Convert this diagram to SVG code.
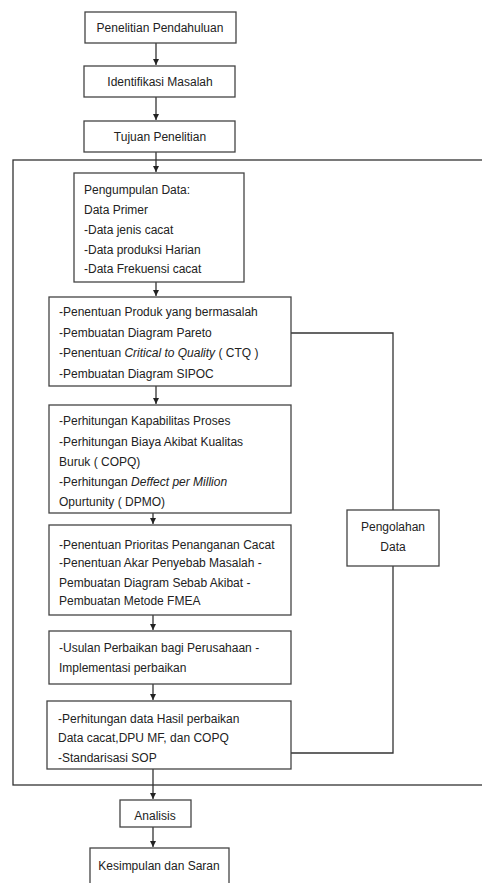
<svg xmlns="http://www.w3.org/2000/svg" width="482" height="883" viewBox="0 0 482 883">
<defs>
<marker id="ah" markerWidth="8" markerHeight="8" refX="6" refY="4" orient="auto" markerUnits="userSpaceOnUse">
<path d="M0,1 L6,4 L0,7 Z" fill="#222"/>
</marker>
<style>
.b{fill:#fff;stroke:#444;stroke-width:1.3}
.c{fill:none;stroke:#333;stroke-width:1.3}
.t{font-family:"Liberation Sans",Arial,sans-serif;font-size:12px;fill:#222}
.m{text-anchor:middle}
.i{font-style:italic}
</style>
</defs>
<rect width="482" height="883" fill="#fff"/>
<g id="frame"><rect x="13" y="160" width="480" height="625" class="c"/></g>
<g id="connectors">
<line x1="156" y1="43" x2="156" y2="65" class="c" marker-end="url(#ah)"/>
<line x1="156" y1="97" x2="156" y2="120" class="c" marker-end="url(#ah)"/>
<line x1="156" y1="152" x2="156" y2="172" class="c" marker-end="url(#ah)"/>
<line x1="156" y1="282" x2="156" y2="296" class="c" marker-end="url(#ah)"/>
<line x1="156" y1="386" x2="156" y2="404" class="c" marker-end="url(#ah)"/>
<line x1="153" y1="513" x2="153" y2="524" class="c" marker-end="url(#ah)"/>
<line x1="153" y1="615" x2="153" y2="630" class="c" marker-end="url(#ah)"/>
<line x1="153" y1="684" x2="153" y2="700" class="c" marker-end="url(#ah)"/>
<line x1="153" y1="769" x2="153" y2="799" class="c" marker-end="url(#ah)"/>
<line x1="153" y1="827" x2="153" y2="847" class="c" marker-end="url(#ah)"/>
<polyline points="291,333 393,333 393,510" class="c"/>
<polyline points="393,566 393,753 291,753" class="c"/>
</g>
<g id="n1"><rect x="85" y="12" width="151" height="31" class="b" stroke-width="2"/><text x="160" y="32" class="t m">Penelitian Pendahuluan</text></g>
<g id="n2"><rect x="84" y="66" width="151" height="31" class="b"/><text x="160" y="86" class="t m">Identifikasi Masalah</text></g>
<g id="n3"><rect x="84" y="121" width="151" height="31" class="b"/><text x="160" y="141" class="t m">Tujuan Penelitian</text></g>
<g id="n4"><rect x="74" y="173" width="170" height="109" class="b"/>
<text class="t"><tspan x="84" y="194">Pengumpulan Data:</tspan><tspan x="84" y="214">Data Primer</tspan><tspan x="84" y="234">-Data jenis cacat</tspan><tspan x="84" y="254">-Data produksi Harian</tspan><tspan x="84" y="273">-Data Frekuensi cacat</tspan></text></g>
<g id="n5"><rect x="49" y="297" width="242" height="89" class="b"/>
<text class="t"><tspan x="59" y="316">-Penentuan Produk yang bermasalah</tspan><tspan x="59" y="337">-Pembuatan Diagram Pareto</tspan><tspan x="59" y="357">-Penentuan <tspan class="i">Critical to Quality</tspan> ( CTQ )</tspan><tspan x="59" y="378">-Pembuatan Diagram SIPOC</tspan></text></g>
<g id="n6"><rect x="49" y="405" width="242" height="108" class="b"/>
<text class="t"><tspan x="59" y="425">-Perhitungan Kapabilitas Proses</tspan><tspan x="59" y="446">-Perhitungan Biaya Akibat Kualitas</tspan><tspan x="59" y="466">Buruk ( COPQ)</tspan><tspan x="59" y="486">-Perhitungan <tspan class="i">Deffect per Million</tspan></tspan><tspan x="59" y="506">Opurtunity ( DPMO)</tspan></text></g>
<g id="n7"><rect x="49" y="525" width="242" height="90" class="b"/>
<text class="t"><tspan x="59" y="549">-Penentuan Prioritas Penanganan Cacat</tspan><tspan x="59" y="567">-Penentuan Akar Penyebab Masalah -</tspan><tspan x="59" y="587">Pembuatan Diagram Sebab Akibat -</tspan><tspan x="59" y="605">Pembuatan Metode FMEA</tspan></text></g>
<g id="n8"><rect x="49" y="631" width="242" height="53" class="b"/>
<text class="t"><tspan x="59" y="652">-Usulan Perbaikan bagi Perusahaan -</tspan><tspan x="59" y="672">Implementasi perbaikan</tspan></text></g>
<g id="n9"><rect x="47" y="701" width="244" height="68" class="b"/>
<text class="t"><tspan x="58" y="723">-Perhitungan data Hasil perbaikan</tspan><tspan x="58" y="742">Data cacat,DPU MF, dan COPQ</tspan><tspan x="58" y="762">-Standarisasi SOP</tspan></text></g>
<g id="n10"><rect x="347" y="510" width="92" height="56" class="b"/><text class="t m"><tspan x="393" y="531">Pengolahan</tspan><tspan x="393" y="551">Data</tspan></text></g>
<g id="n11"><rect x="120" y="800" width="71" height="27" class="b"/><text x="155" y="820" class="t m">Analisis</text></g>
<g id="n12"><rect x="90" y="848" width="139" height="45" class="b"/><text x="159" y="870" class="t m">Kesimpulan dan Saran</text></g>
</svg>
